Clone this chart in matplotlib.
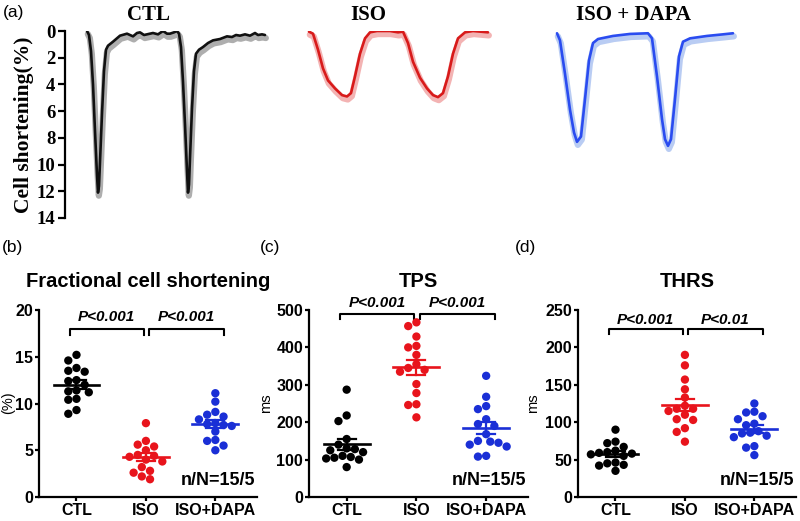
import numpy as np
import matplotlib
matplotlib.use('Agg')
import matplotlib.pyplot as plt
import matplotlib.patheffects as pe

# Fonts
SANS = 'Liberation Sans'
SERIF = 'Liberation Serif'

# (a) representative traces: time (ms) and cell shortening (%)
ctl_t = [0, 20, 40, 60, 80, 100, 110, 120, 130, 150, 170, 190, 210, 260, 330, 400, 460, 500,
         530, 570, 600, 660, 710, 760, 800, 830, 870, 900, 920, 940, 960, 980, 1000, 1010,
         1020, 1030, 1050, 1070, 1090, 1120, 1160, 1210, 1260, 1330, 1400, 1450, 1490, 1530,
         1580, 1630, 1680, 1710, 1750, 1780]
ctl_v = [0.0, 0.3, 1.5, 4.0, 7.5, 10.8, 12.1, 11.6, 9.8, 6.2, 3.0, 1.4, 1.1, 0.8, 0.35, 0.2,
         0.4, 0.15, 0.1, 0.3, 0.25, 0.15, 0.25, 0.0, 0.2, 0.2, 0.1, 0.0, 0.2, 1.2, 3.8, 7.0,
         10.5, 12.1, 11.5, 9.5, 5.8, 3.0, 1.7, 1.4, 1.2, 0.9, 0.7, 0.6, 0.4, 0.45, 0.3, 0.35,
         0.25, 0.35, 0.15, 0.3, 0.25, 0.3]

iso_t = [0, 40, 90, 140, 190, 260, 330, 380, 420, 460, 510, 560, 610, 680, 810, 890, 940,
         990, 1040, 1110, 1180, 1240, 1290, 1340, 1390, 1440, 1490, 1560, 1640, 1790]
iso_v = [0.05, 0.2, 1.4, 2.8, 3.7, 4.3, 4.8, 4.9, 4.65, 3.4, 1.7, 0.55, 0.1, 0.0, 0.0, 0.1,
         0.05, 0.9, 2.3, 3.5, 4.3, 4.8, 4.95, 4.65, 3.4, 1.7, 0.55, 0.1, 0.0, 0.1]

dapa_t = [0, 30, 80, 130, 170, 200, 240, 280, 320, 360, 410, 560, 730, 910, 950, 1000, 1050,
          1080, 1110, 1140, 1180, 1220, 1260, 1330, 1500, 1660, 1760]
dapa_v = [0.17, 0.7, 3.2, 5.9, 7.6, 8.3, 7.9, 5.1, 2.2, 0.9, 0.6, 0.37, 0.22, 0.17, 0.55,
          3.4, 6.6, 8.1, 8.6, 8.1, 5.1, 1.9, 0.8, 0.55, 0.37, 0.25, 0.17]

# (b)-(d) scatter data, n = 15 cells per group
groups = ['CTL', 'ISO', 'ISO+DAPA']

fs_ctl = [15.2, 14.6, 13.8, 13.5, 13.4, 12.5, 12.4, 12.0, 11.4, 11.3, 11.2, 10.5, 10.4, 9.3, 8.9]
fs_iso = [7.9, 6.0, 5.6, 5.4, 5.0, 4.5, 4.4, 4.3, 4.0, 3.8, 3.2, 2.8, 2.6, 2.2, 1.9]
fs_dapa = [11.1, 10.2, 9.1, 8.8, 8.6, 8.3, 7.9, 7.8, 7.7, 7.6, 7.0, 6.1, 6.0, 5.5, 5.0]

tps_ctl = [287, 218, 203, 155, 140, 130, 128, 125, 120, 110, 107, 105, 103, 100, 80]
tps_iso = [467, 457, 429, 404, 400, 380, 355, 345, 340, 335, 302, 278, 248, 246, 213]
tps_dapa = [324, 268, 243, 235, 208, 195, 190, 168, 150, 148, 145, 140, 135, 110, 108]

thrs_ctl = [90, 74, 72, 67, 62, 60, 59, 58, 57, 55, 46, 45, 43, 42, 35]
thrs_iso = [190, 176, 157, 144, 133, 118, 122, 118, 115, 110, 104, 103, 92, 87, 74]
thrs_dapa = [125, 114, 113, 108, 104, 98, 96, 88, 86, 85, 82, 80, 68, 66, 56]

p_labels_b = ['P<0.001', 'P<0.001']
p_labels_c = ['P<0.001', 'P<0.001']
p_labels_d = ['P<0.001', 'P<0.01']

colors = ['#000000', '#e8141c', '#1a2fd6']

fig = plt.figure(figsize=(8, 5.21), dpi=100)
W, H = 800.0, 521.0


def px_axes(left, top, right, bottom):
    return fig.add_axes([left / W, 1 - bottom / H, (right - left) / W, (bottom - top) / H])


# ---------- (a) traces ----------
ax = px_axes(65, 31, 800, 218)
ax.set_xlim(0, 7350)
ax.set_ylim(14, 0)
for s in ['top', 'right', 'bottom']:
    ax.spines[s].set_visible(False)
ax.spines['left'].set_linewidth(1.6)
ax.set_xticks([])
ax.set_yticks(range(0, 15, 2))
ax.tick_params(axis='y', length=5, width=1.6, pad=2)
for lab in ax.get_yticklabels():
    lab.set_fontfamily(SERIF)
    lab.set_fontweight('bold')
    lab.set_fontsize(13.5)
ax.set_ylabel('Cell shortening(%)', fontfamily=SERIF, fontweight='bold', fontsize=15.5, labelpad=2)

traces = [(ctl_t, ctl_v, 220, '#111111', '#9a9a9a'),
          (iso_t, iso_v, 2440, '#d81a1a', '#f0a0a0'),
          (dapa_t, dapa_v, 4920, '#2a4cf0', '#a8c0f0')]
for t, v, off, c, sc in traces:
    ax.plot(np.array(t) + off, v, color=c, lw=1.9, solid_joinstyle='round', solid_capstyle='round',
            path_effects=[pe.SimpleLineShadow(offset=(0.6, -2.2), shadow_color=sc, alpha=0.8, linewidth=4.5),
                          pe.Normal()])

for x, txt in [(148, 'CTL'), (368, 'ISO'), (634, 'ISO + DAPA')]:
    fig.text(x / W, 1 - 15 / H, txt, ha='center', va='center', fontfamily=SERIF,
             fontweight='bold', fontsize=15)
fig.text(3 / W, 1 - 12 / H, '(a)', ha='left', va='center', fontfamily=SANS, fontsize=12.5)


# ---------- (b)-(d) scatter panels ----------
def swarm_offsets(vals, ppx, ppy, d=8.2):
    # simple beeswarm in pixel space; returns x offsets in data units
    ypx = np.array(vals, float) * ppy
    placed = []
    offs = np.zeros(len(vals))
    step = d * 0.5
    for i in np.argsort(-ypx):
        y = ypx[i]
        k = 0
        while True:
            cands = [0.0] if k == 0 else [-k * step, k * step]
            ok = None
            for cx in cands:
                if all((cx - ox) ** 2 + (y - oy) ** 2 >= (d * 0.98) ** 2 for ox, oy in placed):
                    ok = cx
                    break
            if ok is not None:
                placed.append((ok, y))
                offs[i] = ok / ppx
                break
            k += 1
    return offs


def scatter_panel(left, right, data, ymax, ystep, title, ylab, ylab_x, letter, letter_x,
                  plabels, br_y, br_drop, ptxt_y):
    ax = px_axes(left, 310, right, 497)
    ax.set_xlim(-0.54, 2.6)
    ax.set_ylim(0, ymax)
    ppx = (right - left) / 3.14
    ppy = 187.0 / ymax
    for s in ['top', 'right']:
        ax.spines[s].set_visible(False)
    for s in ['left', 'bottom']:
        ax.spines[s].set_linewidth(1.6)
    ax.set_xticks(range(3))
    ax.set_xticklabels(groups)
    ax.set_yticks(np.arange(0, ymax + 1e-9, ystep))
    ax.tick_params(length=3.2, width=1.6, pad=1)
    for lab in ax.get_xticklabels() + ax.get_yticklabels():
        lab.set_fontfamily(SANS)
        lab.set_fontweight('bold')
        lab.set_fontsize(11.5)

    for i, vals in enumerate(data):
        vals = np.array(vals, float)
        offs = swarm_offsets(vals, ppx, ppy)
        ax.scatter(i + offs, vals, s=36, color=colors[i], edgecolors='none', zorder=3)
        m = vals.mean()
        sem = vals.std(ddof=1) / np.sqrt(len(vals))
        ax.plot([i - 0.33, i + 0.33], [m, m], color=colors[i], lw=1.9, zorder=4)
        ax.plot([i, i], [m - sem, m + sem], color=colors[i], lw=1.6, zorder=4)
        for yy in (m - sem, m + sem):
            ax.plot([i - 0.13, i + 0.13], [yy, yy], color=colors[i], lw=1.6, zorder=4)

    # significance brackets
    for (x0, x1), lab in zip([(-0.1, 0.97), (1.05, 2.12)], plabels):
        ax.plot([x0, x0, x1, x1], [br_y - br_drop, br_y, br_y, br_y - br_drop], color='black',
                lw=1.5, solid_joinstyle='round', clip_on=False)
        ax.text((x0 + x1) / 2, ptxt_y, lab, ha='center', va='center', fontfamily=SANS,
                fontweight='bold', fontstyle='italic', fontsize=11, clip_on=False)

    ax.text(0.99, 0.09, 'n/N=15/5', transform=ax.transAxes, ha='right', va='center',
            fontfamily=SANS, fontweight='bold', fontsize=13)
    ax.text(0.5, 1.15, title, transform=ax.transAxes, ha='center', va='center',
            fontfamily=SANS, fontweight='bold', fontsize=14.5)
    fig.text(ylab_x / W, 1 - 403 / H, ylab, rotation=90, ha='center', va='center',
             fontfamily=SANS, fontsize=10.5)
    fig.text(letter_x / W, 1 - 247 / H, letter, ha='left', va='center', fontfamily=SANS, fontsize=12.5)
    return ax


scatter_panel(39, 257, [fs_ctl, fs_iso, fs_dapa], 20, 5, 'Fractional cell shortening', '(%)', 8,
              '(b)', 2, p_labels_b, 18.0, 0.7, 19.3)
scatter_panel(309, 528, [tps_ctl, tps_iso, tps_dapa], 500, 100, 'TPS', 'ms', 266,
              '(c)', 260, p_labels_c, 489, 14, 520)
scatter_panel(578, 796, [thrs_ctl, thrs_iso, thrs_dapa], 250, 50, 'THRS', 'ms', 533,
              '(d)', 515, p_labels_d, 224.5, 6.5, 237)

fig.savefig('out.png', dpi=100)
